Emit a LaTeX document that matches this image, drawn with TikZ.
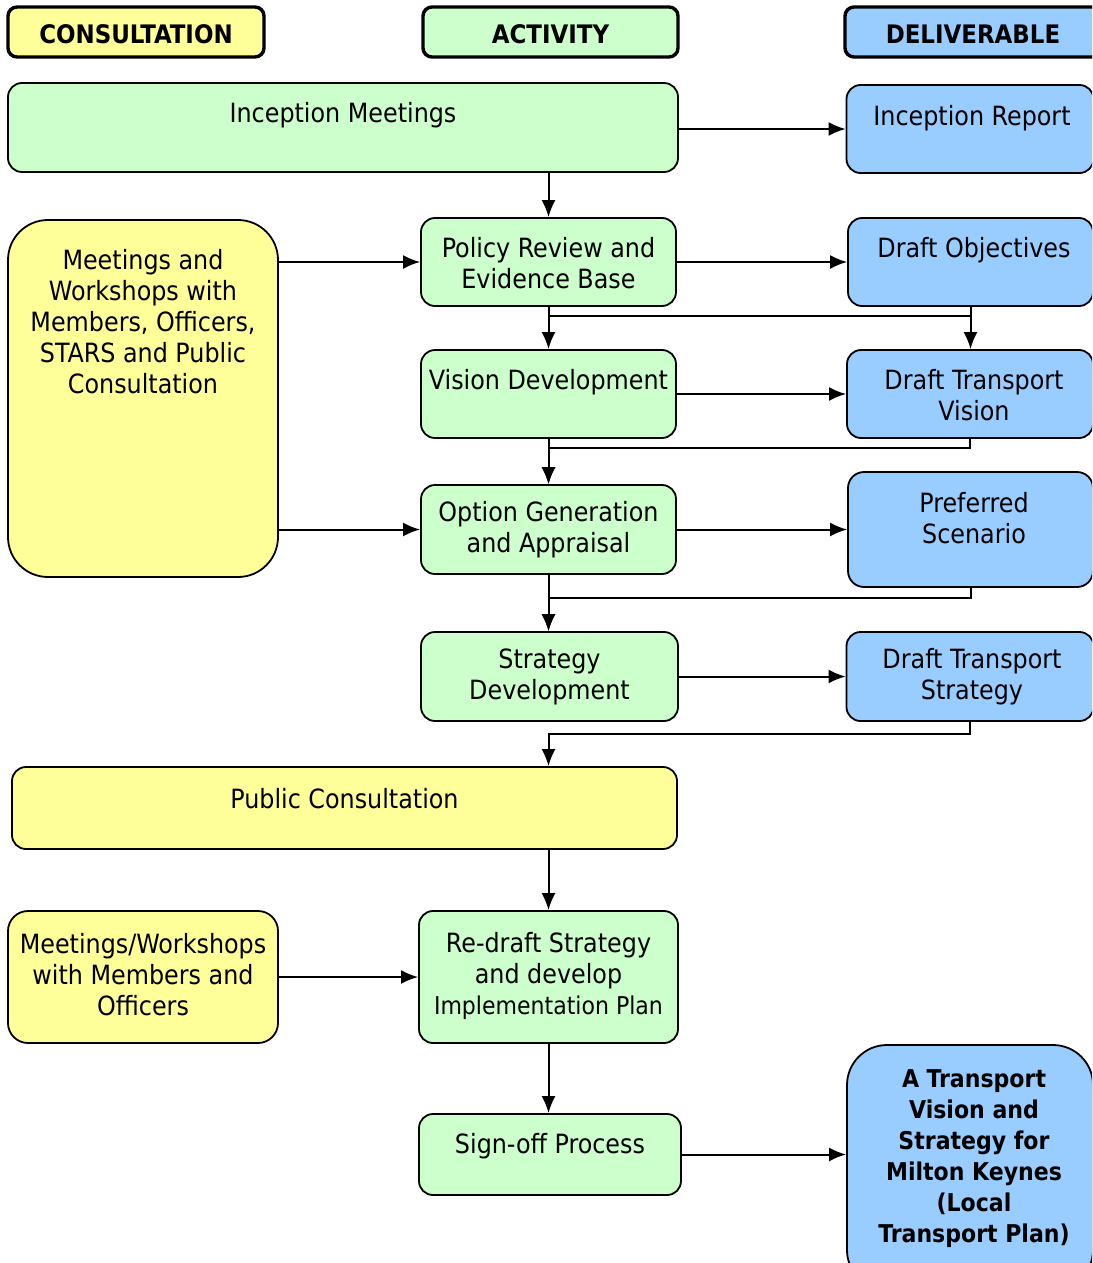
\documentclass[tikz,border=0pt]{standalone}
\usepackage{fontspec}
\setmainfont{DejaVu Sans Condensed}[BoldFont={DejaVu Sans Condensed Bold}]
\usetikzlibrary{arrows.meta}
\definecolor{cyel}{HTML}{FFFF99}
\definecolor{cgrn}{HTML}{CCFFCC}
\definecolor{cblu}{HTML}{99CCFF}
\begin{document}
\begin{tikzpicture}[x=1pt,y=-1pt,
  box/.style={draw=black, line width=1.8pt, rounded corners=14pt, inner sep=0pt},
  hdr/.style={box, line width=3.4pt, rounded corners=9pt},
  txt/.style={align=center, font=\fontsize{26.5}{31}\selectfont, inner sep=0pt},
  htxt/.style={align=center, font=\fontsize{25.5}{31}\selectfont\bfseries, inner sep=0pt},
  btxt/.style={align=center, font=\fontsize{24.5}{31}\selectfont\bfseries, inner sep=0pt},
  arr/.style={line width=2pt, -{Latex[length=17pt,width=14pt]}},
  ln/.style={line width=2pt}]
\clip (0,0) rectangle (1092,1263);
\useasboundingbox (0,0) rectangle (1092,1263);
\fill[white] (0,0) rectangle (1092,1263);

% headers
\node[hdr, fill=cyel, minimum width=256pt, minimum height=50pt] (h1) at (136,32) {};
\node[htxt] (h1t) at (136,34) {CONSULTATION};
\node[hdr, fill=cgrn, minimum width=255pt, minimum height=50pt] (h2) at (550.5,32) {};
\node[htxt] (h2t) at (550.5,34) {ACTIVITY};
\node[hdr, fill=cblu, minimum width=256pt, minimum height=50pt] (h3) at (973,32) {};
\node[htxt] (h3t) at (973,34) {DELIVERABLE};

% activity column
\node[box, fill=cgrn, minimum width=670pt, minimum height=89pt] (incm) at (343,127.5) {};
\node[txt] (incmt) at (343,115) {Inception Meetings};
\node[box, fill=cgrn, minimum width=255pt, minimum height=88pt] (pol) at (548.5,262) {};
\node[txt] (polt) at (548.5,263) {Policy Review and\\Evidence Base};
\node[box, fill=cgrn, minimum width=255pt, minimum height=88pt] (vis) at (548.5,394) {};
\node[txt] (vist) at (548.5,382) {Vision Development};
\node[box, fill=cgrn, minimum width=255pt, minimum height=89pt] (opt) at (548.5,529.5) {};
\node[txt] (optt) at (548.5,530) {Option Generation\\and Appraisal};
\node[box, fill=cgrn, minimum width=257pt, minimum height=89pt] (str) at (549.5,676.5) {};
\node[txt] (strt) at (549.5,677) {Strategy\\Development};
\node[box, fill=cgrn, minimum width=259pt, minimum height=132pt] (red) at (548.5,977) {};
\node[txt] (redt) at (548.5,976) {Re-draft Strategy\\and develop\\{\fontsize{24.5}{31}\selectfont Implementation Plan}};
\node[box, fill=cgrn, minimum width=262pt, minimum height=81pt] (sign) at (550,1154.5) {};
\node[txt] (signt) at (550,1146) {Sign-off Process};

% consultation column
\node[box, fill=cyel, rounded corners=40pt, minimum width=270pt, minimum height=357pt] (mw) at (143,398.5) {};
\node[txt] (mwt) at (143,322) {Meetings and\\Workshops with\\Members, Officers,\\STARS and Public\\Consultation};
\node[box, fill=cyel, minimum width=665pt, minimum height=82pt] (pc) at (344.5,808) {};
\node[txt] (pct) at (344.5,799) {Public Consultation};
\node[box, fill=cyel, rounded corners=20pt, minimum width=270pt, minimum height=132pt] (mw2) at (143,977) {};
\node[txt] (mw2t) at (143,975) {Meetings/Workshops\\with Members and\\Officers};

% deliverable column
\node[box, fill=cblu, minimum width=247pt, minimum height=88pt] (incr) at (970,129) {};
\node[txt] (incrt) at (972,118) {Inception Report};
\node[box, fill=cblu, minimum width=245pt, minimum height=88pt] (dobj) at (970.5,262) {};
\node[txt] (dobjt) at (974,250) {Draft Objectives};
\node[box, fill=cblu, minimum width=246pt, minimum height=88pt] (dtv) at (970,394) {};
\node[txt] (dtvt) at (974,395) {Draft Transport\\Vision};
\node[box, fill=cblu, rounded corners=16pt, minimum width=245pt, minimum height=115pt] (pref) at (970.5,529.5) {};
\node[txt] (preft) at (974,518) {Preferred\\Scenario};
\node[box, fill=cblu, minimum width=247pt, minimum height=89pt] (dts) at (970,676.5) {};
\node[txt] (dtst) at (972,677) {Draft Transport\\Strategy};
\node[box, fill=cblu, rounded corners=40pt, minimum width=246pt, minimum height=245pt] (atr) at (970,1167.5) {};
\node[btxt] (atrt) at (974,1159) {A Transport\\Vision and\\Strategy for\\Milton Keynes\\(Local\\Transport Plan)};

% connectors
\draw[arr] (incm.east |- incr.west) -- (incr.west);
\draw[arr] (incm.south -| pol.north) -- (pol.north);
\draw[arr] (mw.east |- pol.west) -- (pol.west);
\draw[arr] (mw.east |- opt.west) -- (opt.west);
\draw[arr] (pol.east) -- (dobj.west);
\draw[arr] (pol.south) -- (vis.north);
\draw[arr] (dobj.south) -- (dobj.south |- dtv.north);
\draw[ln] ([yshift=-9pt]pol.south) -| (dobj.south);
\draw[arr] (vis.east) -- (dtv.west);
\draw[arr] (vis.south) -- (opt.north);
\draw[arr] (dtv.south) -- ++(0,9) -| (opt.north);
\draw[arr] (opt.east) -- (pref.west);
\draw[arr] (opt.south) -- (opt.south |- str.north);
\draw[arr] (pref.south) -- ++(0,10) -| (opt.south |- str.north);
\draw[arr] (str.east) -- (dts.west);
\draw[arr] (dts.south) -- ++(0,12) -| (pc.north -| opt.south);
\draw[arr] (pc.south -| red.north) -- (red.north);
\draw[arr] (mw2.east) -- (red.west);
\draw[arr] (red.south) -- (red.south |- sign.north);
\draw[arr] (sign.east) -- (sign.east -| atr.west);
\end{tikzpicture}
\end{document}
